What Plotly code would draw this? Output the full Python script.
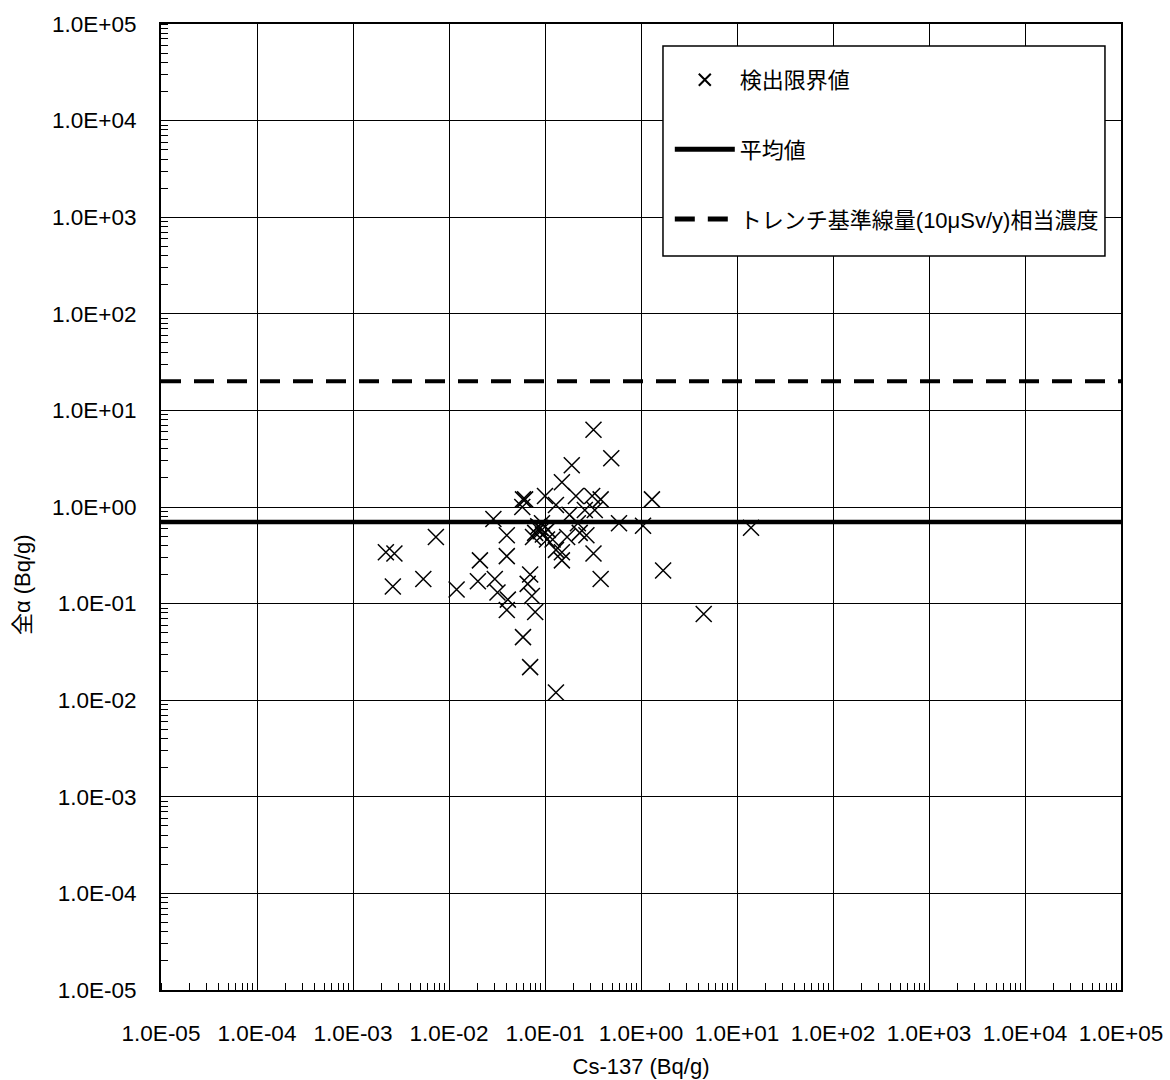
import plotly.graph_objects as go

# Cs-137 and gross alpha concentrations of the measured samples (Bq/g)
cs137 = [
    2.2e-3, 2.7e-3, 2.6e-3, 5.4e-3, 7.3e-3, 1.2e-2, 2.1e-2, 2.9e-2, 5.9e-2, 4.0e-2,
    4.0e-2, 2.0e-2, 3.0e-2, 3.2e-2, 4.1e-2, 4.0e-2, 6.6e-2, 7.3e-2, 7.9e-2, 5.9e-2,
    7.0e-2, 0.13, 0.32, 0.49, 0.19, 0.15, 0.10, 6.2e-2, 0.21, 0.31,
    0.38, 1.3, 0.59, 1.05, 14, 0.32, 0.38, 1.7, 4.5, 0.15,
    0.23, 0.15, 0.105, 0.22, 7.9e-2, 0.12, 0.17, 9.3e-2, 0.27, 0.13,
    7.0e-2, 7.5e-2, 5.8e-2, 8.9e-2, 0.107, 0.26, 0.18, 0.13, 0.33, 8.5e-2,
    9.0e-2, 9.5e-2,
]
gross_alpha = [
    0.34, 0.33, 0.15, 0.18, 0.49, 0.14, 0.28, 0.75, 1.2, 0.51,
    0.31, 0.17, 0.18, 0.13, 0.11, 0.086, 0.16, 0.12, 0.082, 0.045,
    0.022, 0.012, 6.3, 3.2, 2.7, 1.8, 1.3, 1.2, 1.3, 1.3,
    1.2, 1.2, 0.68, 0.64, 0.61, 0.33, 0.18, 0.22, 0.078, 0.28,
    0.54, 0.34, 0.46, 0.68, 0.54, 0.46, 0.49, 0.68, 0.51, 0.36,
    0.20, 0.49, 1.0, 0.61, 0.58, 0.93, 0.83, 1.05, 0.93, 0.63,
    0.56, 0.52,
]

mean_alpha = 0.7          # 平均値
trench_reference = 20     # トレンチ基準線量(10μSv/y)相当濃度
line_span = [1e-5, 1e5]

tick_values = [1e-5, 1e-4, 1e-3, 1e-2, 1e-1, 1e0, 1e1, 1e2, 1e3, 1e4, 1e5]
tick_labels = ["1.0E-05", "1.0E-04", "1.0E-03", "1.0E-02", "1.0E-01", "1.0E+00",
               "1.0E+01", "1.0E+02", "1.0E+03", "1.0E+04", "1.0E+05"]

LATIN = "Liberation Sans, Arial, sans-serif"
CJK = "Liberation Sans, Noto Sans CJK JP, sans-serif"

fig = go.Figure()

fig.add_trace(go.Scatter(
    x=cs137, y=gross_alpha, mode="markers", name="検出限界値",
    legendgroup="a",
    marker=dict(symbol="x-thin-open", size=16, color="black",
                line=dict(color="black", width=1.5)),
))
fig.add_trace(go.Scatter(
    x=line_span, y=[mean_alpha, mean_alpha], mode="lines", name="平均値",
    legendgroup="b",
    line=dict(color="black", width=4.5),
))
fig.add_trace(go.Scatter(
    x=line_span, y=[trench_reference, trench_reference], mode="lines",
    name="トレンチ基準線量(10μSv/y)相当濃度",
    legendgroup="c",
    line=dict(color="black", width=4, dash="20px,13px"),
))

axis_common = dict(
    type="log",
    range=[-5, 5],
    tickmode="array",
    tickvals=tick_values,
    ticktext=tick_labels,
    ticks="",
    showgrid=True,
    gridcolor="black",
    gridwidth=1.3,
    showline=True,
    linecolor="black",
    linewidth=2,
    mirror=True,
    zeroline=False,
    automargin=False,
    tickfont=dict(family=LATIN, size=22.5, color="black"),
    minor=dict(ticks="inside", ticklen=7, tickwidth=1.3, tickcolor="black",
               dtick="D1", showgrid=False),
)

fig.update_xaxes(**axis_common, ticklabelstandoff=22,
                 title=dict(text="Cs-137 (Bq/g)", standoff=14,
                            font=dict(family=LATIN, size=22, color="black")))
fig.update_yaxes(**axis_common, ticklabelstandoff=18)

fig.add_annotation(
    text="全α (Bq/g)", textangle=-90, showarrow=False,
    xref="paper", yref="paper", x=-0.145, y=0.42,
    xanchor="center", yanchor="middle",
    font=dict(family=CJK, size=22, color="black"),
)

# Legend frame
fig.add_shape(
    type="rect", xref="paper", yref="paper", layer="above",
    x0=0.5229, x1=0.9833, y0=0.7598, y1=0.9772,
    line=dict(color="black", width=1.5), fillcolor="white",
)

fig.update_layout(
    width=1170, height=1080,
    margin=dict(l=161, r=49, t=24, b=90),
    paper_bgcolor="white",
    plot_bgcolor="white",
    showlegend=True,
    legend=dict(
        x=0.530, y=0.9638, xanchor="left", yanchor="top",
        bgcolor="rgba(0,0,0,0)", borderwidth=0,
        font=dict(family=CJK, size=22, color="black"),
        tracegroupgap=38, itemwidth=60, itemsizing="constant",
    ),
)

fig.write_html("out.html")
